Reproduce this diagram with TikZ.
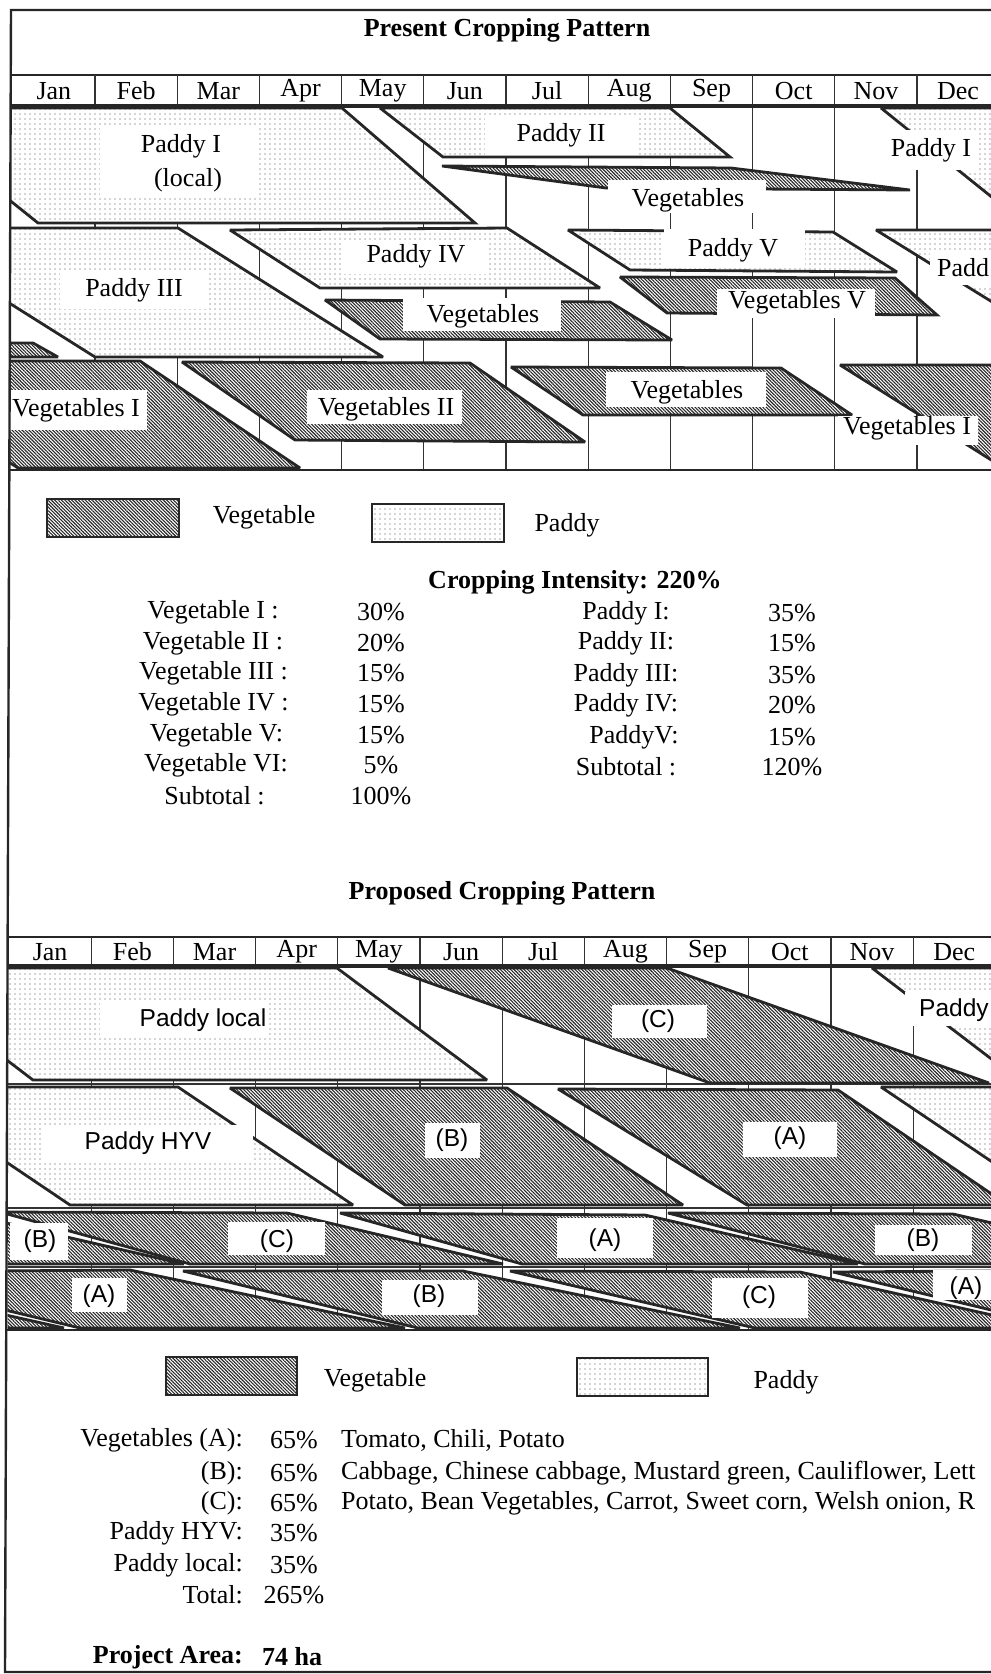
\documentclass[tikz,border=0pt]{standalone}
\usepackage{fontspec}
\setmainfont{Liberation Serif}
\newfontfamily\sansf{Liberation Sans}
\usetikzlibrary{patterns.meta}
\begin{document}
\begin{tikzpicture}[x=1pt,y=-1pt,
  veg/.style={preaction={fill=white}, pattern={Lines[angle=-45,distance=2.4pt,line width=1.1pt]}, pattern color=black!85, draw=black!85, line width=2.8pt, miter limit=3},
  pad/.style={preaction={fill=white}, pattern={Dots[distance=5pt,radius=0.6pt]}, pattern color=black!70, draw=black!85, line width=2.8pt, miter limit=3},
  txt/.style={inner sep=0pt, font=\fontsize{26}{30}\selectfont, text=black},
  btxt/.style={inner sep=0pt, font=\bfseries\fontsize{26}{30}\selectfont, text=black},
  stxt/.style={inner sep=0pt, font=\sansf\fontsize{24.5}{28}\selectfont, text=black},
  gridl/.style={line width=1.2pt, draw=black!80},
  wbox/.style={fill=white},
]
\useasboundingbox (0,0) rectangle (991,1674);
\clip (0,0) rectangle (991,1674);

% ---------------- titles ----------------
\node[btxt] (t1) at (507,30) {Present Cropping Pattern};
\node[btxt] (t2) at (502,893) {Proposed Cropping Pattern};

% ---------------- top chart ----------------
\begin{scope}
\clip (10,106) rectangle (991,470);
\foreach \k in {1,...,11} \draw[gridl] ({12.8+82.2*\k},106) -- ({12.8+82.2*\k},470);
\path[pad] (-105,108) -- (342,108) -- (475,223) -- (38,223) -- cycle;
\path[pad] (881,108) -- (1328,108) -- (1461,223) -- (1024,223) -- cycle;
\path[pad] (380,108) -- (670,108) -- (730,157) -- (443,157) -- cycle;
\path[veg] (442,166) -- (731,168) -- (910,190) -- (606,188) -- cycle;
\path[pad] (-110,228) -- (178,228) -- (383,357) -- (95,357) -- cycle;
\path[pad] (876,230) -- (1164,230) -- (1369,357) -- (1081,357) -- cycle;
\path[pad] (230,230) -- (507,228) -- (600,288) -- (320,288) -- cycle;
\path[veg] (325,300) -- (610,302) -- (672,340) -- (380,339) -- cycle;
\path[pad] (568,230) -- (833,232) -- (897,272) -- (630,270) -- cycle;
\path[veg] (620,277) -- (895,278) -- (937,315) -- (667,313) -- cycle;
\path[veg] (-20,343) -- (33,343) -- (58,357) -- (-20,357) -- cycle;
\path[veg] (-146,361) -- (140,361) -- (300,468) -- (18,468) -- cycle;
\path[veg] (840,365) -- (1126,365) -- (1286,468) -- (1004,468) -- cycle;
\path[veg] (182,362) -- (470,363) -- (585,442) -- (295,440) -- cycle;
\path[veg] (511,367) -- (781,368) -- (852,415) -- (583,415) -- cycle;
% label boxes and labels
\fill[wbox] (100,127) rectangle (257,195);
\node[txt] (lpI) at (181,146) {Paddy I};
\node[txt] (lpIb) at (188,180) {(local)};
\fill[wbox] (485,117) rectangle (637,155);
\node[txt] (lpII) at (561,135) {Paddy II};
\fill[wbox] (608,180) rectangle (766,213);
\node[txt] (lva) at (688,200) {Vegetables};
\fill[wbox] (878,130) rectangle (978,170);
\node[txt] (lpIw) at (931,150) {Paddy I};
\fill[wbox] (930,252) rectangle (991,285);
\node[txt, anchor=west] (lpIIIw) at (937,268) {Padd};
\fill[wbox] (60,272) rectangle (207,309);
\node[txt] (lpIII) at (134,290) {Paddy III};
\fill[wbox] (343,241) rectangle (487,274);
\node[txt] (lpIV) at (416,256) {Paddy IV};
\fill[wbox] (403,298) rectangle (561,331);
\node[txt] (lvb) at (483,316) {Vegetables};
\fill[wbox] (664,229) rectangle (805,265);
\node[txt] (lpV) at (733,250) {Paddy V};
\fill[wbox] (717,289) rectangle (875,318);
\node[txt] (lvV) at (797,302) {Vegetables V};
\fill[wbox] (10,390) rectangle (147,430);
\node[txt] (lvI) at (76,410) {Vegetables I};
\fill[wbox] (838,416) rectangle (978,445);
\node[txt] (lvIw) at (907,428) {Vegetables I};
\fill[wbox] (307,390) rectangle (462,424);
\node[txt] (lvII) at (386,409) {Vegetables II};
\fill[wbox] (606,372) rectangle (766,407);
\node[txt] (lvc) at (687,392) {Vegetables};
\end{scope}
% header top chart
\draw[line width=1.5pt, black!85] (10,75) -- (991,75);
\foreach \k in {1,...,11} \draw[gridl] ({12.8+82.2*\k},75) -- ({12.8+82.2*\k},106);
\draw[line width=3.6pt, black!85] (10,106) -- (991,106);
\draw[line width=2.6pt, black!85] (10,470) -- (991,470);
\foreach \m [count=\i from 0] in {Jan,Feb,Mar,Apr,May,Jun,Jul,Aug,Sep,Oct,Nov,Dec}
  \node[txt] (tm\i) at ({12.8+82.2*(\i+0.5)},91) {\m};

% ---------------- legend 1 ----------------
\draw[veg] (47,499) rectangle (179,537);
\node[txt] (lgv1) at (264,517) {Vegetable};
\draw[pad] (372,504) rectangle (504,542);
\node[txt] (lgp1) at (567,525) {Paddy};

% ---------------- statistics ----------------
\node[btxt] (ci) at (575,582) {Cropping Intensity: 220\%};
\node[txt] (s1) at (213,612) {Vegetable I :};
\node[txt] (s2) at (213,643) {Vegetable II :};
\node[txt] (s3) at (213.5,673) {Vegetable III :};
\node[txt] (s4) at (213.5,704) {Vegetable IV :};
\node[txt] (s5) at (216.5,735) {Vegetable V:};
\node[txt] (s6) at (216,765) {Vegetable VI:};
\node[txt] (s7) at (214.5,796) {Subtotal :};
\node[txt] (p1) at (381,612) {30\%};
\node[txt] (p2) at (381,643) {20\%};
\node[txt] (p3) at (381,673) {15\%};
\node[txt] (p4) at (381,704) {15\%};
\node[txt] (p5) at (381,735) {15\%};
\node[txt] (p6) at (381,765) {5\%};
\node[txt] (p7) at (381,796) {100\%};
\node[txt] (r1) at (626,613) {Paddy I:};
\node[txt] (r2) at (626,643) {Paddy II:};
\node[txt] (r3) at (626,675) {Paddy III:};
\node[txt] (r4) at (626,705) {Paddy IV:};
\node[txt] (r5) at (634,737) {PaddyV:};
\node[txt] (r6) at (626,767) {Subtotal :};
\node[txt] (q1) at (792,613) {35\%};
\node[txt] (q2) at (792,643) {15\%};
\node[txt] (q3) at (792,675) {35\%};
\node[txt] (q4) at (792,705) {20\%};
\node[txt] (q5) at (792,737) {15\%};
\node[txt] (q6) at (792,767) {120\%};

% ---------------- bottom chart ----------------
\begin{scope}
\clip (7.5,966) rectangle (991,1330);
\foreach \k in {1,...,11} \draw[gridl] ({9+82.2*\k},966) -- ({9+82.2*\k},1330);
\foreach \yy in {1084,1208,1267} \draw[gridl] (7,\yy) -- (991,\yy);
\path[pad] (-114,968) -- (337,968) -- (487,1080) -- (33,1080) -- cycle;
\path[pad] (872,968) -- (1323,968) -- (1473,1080) -- (1019,1080) -- cycle;
\path[veg] (388,968) -- (667,968) -- (989,1083) -- (710,1083) -- cycle;
\path[pad] (-105,1087) -- (178,1087) -- (353,1205) -- (70,1205) -- cycle;
\path[pad] (881,1087) -- (1164,1087) -- (1339,1205) -- (1056,1205) -- cycle;
\path[veg] (230,1088) -- (507,1088) -- (683,1205) -- (405,1205) -- cycle;
\path[veg] (558,1089) -- (838,1090) -- (1008,1205) -- (747,1205) -- cycle;
% row 3
\path[veg] (-318,1213) -- (-33,1214) -- (184,1264) -- (-121,1264) -- cycle;
\path[veg] (0,1212) -- (287,1213) -- (503,1264) -- (190,1264) -- cycle;
\path[veg] (340,1213) -- (645,1215) -- (858,1264) -- (522,1264) -- cycle;
\path[veg] (668,1213) -- (953,1214) -- (1170,1264) -- (865,1264) -- cycle;
% row 4
\path[veg] (-476,1271) -- (-186,1272) -- (64,1328) -- (-231,1328) -- cycle;
\path[veg] (-153,1272) -- (130,1270) -- (405,1328) -- (80,1328) -- cycle;
\path[veg] (833,1272) -- (1116,1270) -- (1391,1328) -- (1066,1328) -- cycle;
\path[veg] (183,1271) -- (463,1271) -- (740,1328) -- (418,1328) -- cycle;
\path[veg] (510,1271) -- (800,1272) -- (1050,1328) -- (755,1328) -- cycle;
% labels
\fill[wbox] (100,1002) rectangle (267,1038);
\node[stxt] (bpl) at (203,1020) {Paddy local};
\fill[wbox] (905,992) rectangle (991,1026);
\node[stxt, anchor=west] (bplw) at (919,1010) {Paddy};
\fill[wbox] (612,1005) rectangle (707,1038);
\node[stxt] (bc1) at (658,1021) {(C)};
\fill[wbox] (43,1125) rectangle (253,1163);
\node[stxt] (bph) at (148,1143) {Paddy HYV};
\fill[wbox] (425,1123) rectangle (480,1158);
\node[stxt] (bb1) at (452,1140) {(B)};
\fill[wbox] (743,1122) rectangle (837,1157);
\node[stxt] (ba1) at (790,1138) {(A)};
\fill[wbox] (10,1223) rectangle (68,1260);
\node[stxt] (bb2) at (40,1241) {(B)};
\fill[wbox] (228,1222) rectangle (325,1255);
\node[stxt] (bc2) at (277,1241) {(C)};
\fill[wbox] (557,1218) rectangle (653,1258);
\node[stxt] (ba2) at (605,1240) {(A)};
\fill[wbox] (875,1225) rectangle (972,1255);
\node[stxt] (bb3) at (923,1240) {(B)};
\fill[wbox] (72,1278) rectangle (127,1312);
\node[stxt] (ba3) at (99,1296) {(A)};
\fill[wbox] (382,1280) rectangle (478,1315);
\node[stxt] (bb4) at (429,1296) {(B)};
\fill[wbox] (712,1278) rectangle (808,1318);
\node[stxt] (bc3) at (759,1297) {(C)};
\fill[wbox] (933,1270) rectangle (995,1300);
\node[stxt] (ba4) at (966,1288) {(A)};
\end{scope}
% header bottom chart
\draw[line width=1.5pt, black!85] (7,937) -- (991,937);
\foreach \k in {1,...,11} \draw[gridl] ({9+82.2*\k},937) -- ({9+82.2*\k},966);
\draw[line width=3.6pt, black!85] (7,966) -- (991,966);
\draw[line width=2.6pt, black!85] (7,1330) -- (991,1330);
\foreach \m [count=\i from 0] in {Jan,Feb,Mar,Apr,May,Jun,Jul,Aug,Sep,Oct,Nov,Dec}
  \node[txt] (bm\i) at ({9+82.2*(\i+0.5)},952) {\m};

% ---------------- legend 2 ----------------
\draw[veg] (166,1357) rectangle (297,1395);
\node[txt] (lgv2) at (375,1380) {Vegetable};
\draw[pad] (577,1358) rectangle (708,1396);
\node[txt] (lgp2) at (786,1382) {Paddy};

% ---------------- bottom text ----------------
\node[txt, anchor=east] (va) at (243,1440) {Vegetables (A):};
\node[txt, anchor=east] (vb) at (243,1473) {(B):};
\node[txt, anchor=east] (vc) at (243,1503) {(C):};
\node[txt, anchor=east] (ph) at (243,1533) {Paddy HYV:};
\node[txt, anchor=east] (pl) at (243,1565) {Paddy local:};
\node[txt, anchor=east] (tt) at (243,1595) {Total:};
\node[txt] (vap) at (294,1440) {65\%};
\node[txt] (vbp) at (294,1473) {65\%};
\node[txt] (vcp) at (294,1503) {65\%};
\node[txt] (php) at (294,1533) {35\%};
\node[txt] (plp) at (294,1565) {35\%};
\node[txt] (ttp) at (294,1595) {265\%};
\node[txt, anchor=west] (vat) at (341,1440) {Tomato, Chili, Potato};
\node[txt, anchor=west] (vbt) at (341,1473) {Cabbage, Chinese cabbage, Mustard green, Cauliflower, Lett};
\node[txt, anchor=west] (vct) at (341,1503) {Potato, Bean Vegetables, Carrot, Sweet corn, Welsh onion, R};
\node[btxt, anchor=east] (pa) at (243,1657) {Project Area:};
\node[btxt, anchor=west] (pav) at (262,1657) {74 ha};

% ---------------- frame ----------------
\draw[line width=2.4pt, black!85] (991,10) -- (11,10) -- (5,1672) -- (991,1672);
\end{tikzpicture}
\end{document}
